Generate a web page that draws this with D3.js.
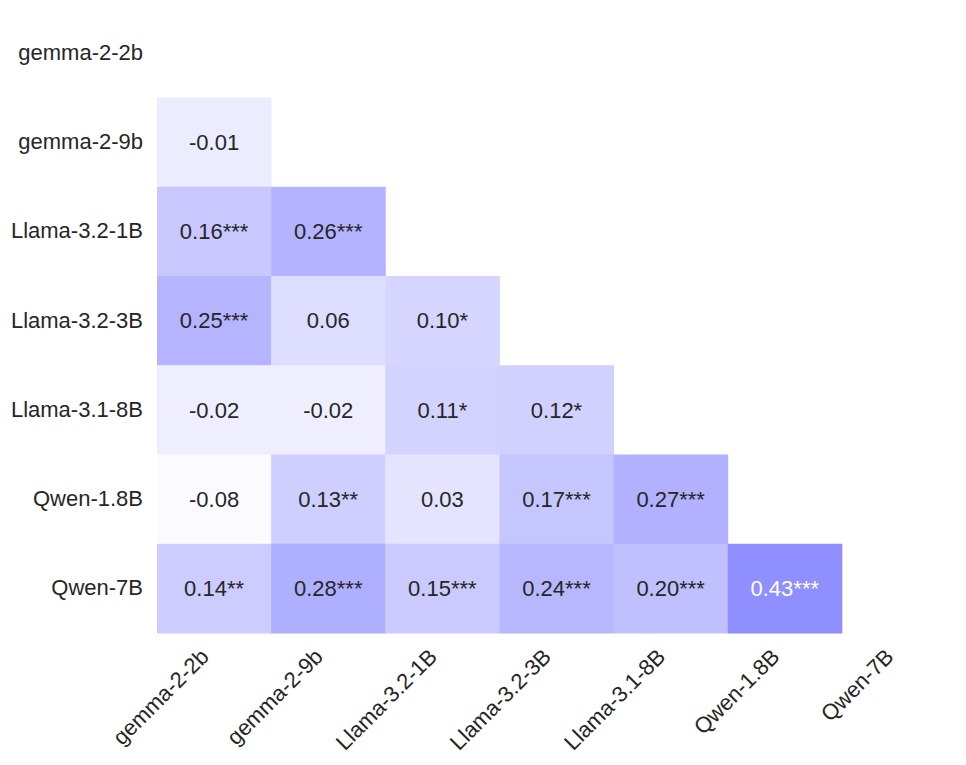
<!DOCTYPE html>
<html>
<head>
<meta charset="utf-8">
<script src="https://cdn.jsdelivr.net/npm/d3@7"></script>
<style>
  html, body { margin: 0; padding: 0; background: #fff; }
  svg text { font-family: "Liberation Sans", Arial, sans-serif; }
</style>
</head>
<body>
<div id="chart"></div>
<script>
  const MODELS = ['gemma-2-2b', 'gemma-2-9b', 'Llama-3.2-1B', 'Llama-3.2-3B', 'Llama-3.1-8B', 'Qwen-1.8B', 'Qwen-7B'];

  // lower triangle, row i holds columns 0..i-1
  const VALUES = [
    [],
    [-0.01],
    [0.16, 0.26],
    [0.25, 0.06, 0.10],
    [-0.02, -0.02, 0.11, 0.12],
    [-0.08, 0.13, 0.03, 0.17, 0.27],
    [0.14, 0.28, 0.15, 0.24, 0.20, 0.43],
  ];

  const STARS = [
    [],
    [''],
    ['***', '***'],
    ['***', '', '*'],
    ['', '', '*', '*'],
    ['', '**', '', '***', '***'],
    ['**', '***', '***', '***', '***', '***'],
  ];

  const COLOR_DOMAIN = [-0.1, 0.43];
  const COLOR_RANGE = ['#ffffff', '#8f8fff'];

  const width = 966;
  const height = 765;
  const margin = { top: 8.25, right: 10, bottom: 132, left: 157 };

  const svg = d3.select('#chart')
    .append('svg')
    .attr('width', width)
    .attr('height', height);

  const x = d3.scaleBand()
    .domain(MODELS)
    .range([margin.left, width - margin.right])
    .padding(0);

  const y = d3.scaleBand()
    .domain(MODELS)
    .range([margin.top, height - margin.bottom])
    .padding(0);

  const color = d3.scaleLinear()
    .domain(COLOR_DOMAIN)
    .range(COLOR_RANGE)
    .clamp(true);

  // plain hyphen for negatives, like the reference
  const fmt = d3.formatLocale({ decimal: '.', thousands: ',', grouping: [3], currency: ['', ''], minus: '-' }).format('.2f');

  const cells = [];
  VALUES.forEach((row, i) => {
    row.forEach((v, j) => {
      cells.push({ row: MODELS[i], col: MODELS[j], value: v, stars: STARS[i][j] });
    });
  });

  const cellLayer = svg.append('g');

  cellLayer.selectAll('rect')
    .data(cells)
    .join('rect')
    .attr('x', d => x(d.col))
    .attr('y', d => y(d.row))
    .attr('width', x.bandwidth() + 0.5)
    .attr('height', y.bandwidth() + 0.5)
    .attr('fill', d => color(d.value));

  cellLayer.selectAll('text')
    .data(cells)
    .join('text')
    .attr('x', d => x(d.col) + x.bandwidth() / 2)
    .attr('y', d => y(d.row) + y.bandwidth() / 2)
    .attr('dy', '0.35em')
    .attr('text-anchor', 'middle')
    .attr('font-size', 22)
    .attr('fill', d => d.value > 0.35 ? '#ffffff' : '#262626')
    .text(d => fmt(d.value) + d.stars);

  // y axis
  const yAxis = svg.append('g')
    .attr('transform', `translate(${margin.left},0)`)
    .call(d3.axisLeft(y).tickSize(0).tickPadding(14));
  yAxis.select('.domain').remove();
  yAxis.selectAll('text')
    .attr('font-size', 22)
    .attr('fill', '#262626')
    .style('font-family', '"Liberation Sans", Arial, sans-serif');

  // x axis, rotated labels
  const xAxis = svg.append('g')
    .attr('transform', `translate(0,${height - margin.bottom})`)
    .call(d3.axisBottom(x).tickSize(0));
  xAxis.select('.domain').remove();
  xAxis.selectAll('text')
    .attr('font-size', 22)
    .attr('fill', '#262626')
    .style('font-family', '"Liberation Sans", Arial, sans-serif')
    .attr('text-anchor', 'end')
    .attr('dy', null)
    .attr('y', null)
    .attr('transform', 'translate(-4,25) rotate(-45)');
</script>
</body>
</html>
